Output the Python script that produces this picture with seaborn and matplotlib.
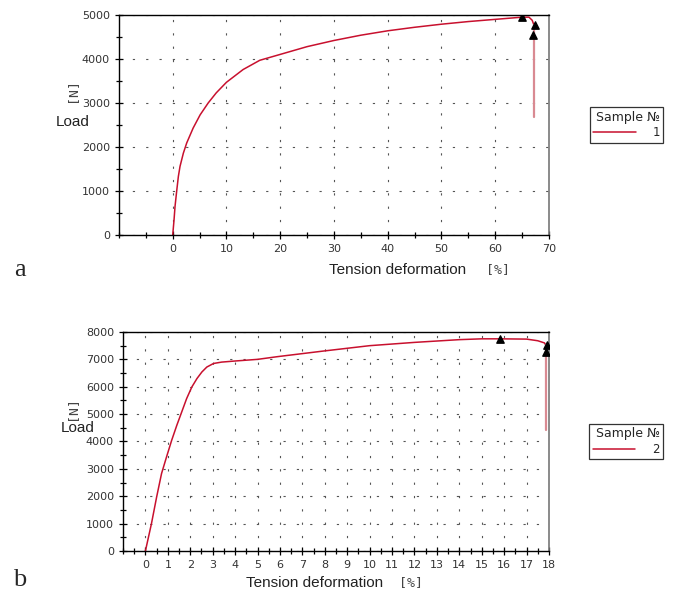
import matplotlib.pyplot as plt
import seaborn as sns
from matplotlib.ticker import MultipleLocator

# Sample 1 (panel a): tension deformation [%] vs load [N]
strain_a = [0, 0.25, 0.43, 0.74, 1.05, 1.36, 1.98, 2.6, 3.8, 5.1, 6.6, 8.1, 10, 13.1,
            16.2, 19.9, 25, 30, 35, 40, 45, 50, 55, 60, 63, 65, 66.3, 66.9, 67.2]
load_a = [0, 350, 650, 1000, 1330, 1560, 1860, 2090, 2430, 2730, 3000, 3230, 3470, 3760,
          3970, 4100, 4280, 4420, 4540, 4640, 4720, 4790, 4850, 4900, 4930, 4950, 4950,
          4880, 4780]
drop_a_x = [67.2, 67.2]
drop_a_y = [4780, 2690]
marks_a_x = [65.0, 67.4, 67.1]
marks_a_y = [4950, 4770, 4540]

# Sample 2 (panel b)
strain_b = [0, 0.27, 0.5, 0.72, 0.94, 1.17, 1.4, 1.62, 1.84, 2.07, 2.3, 2.52, 2.74, 3.04,
            3.4, 4.0, 5.0, 5.9, 7.9, 10, 12, 14, 15, 15.8, 17, 17.5, 17.8, 17.85]
load_b = [0, 1000, 1970, 2830, 3430, 4040, 4590, 5080, 5570, 5990, 6300, 6540, 6720, 6850,
          6900, 6940, 7000, 7100, 7300, 7500, 7620, 7720, 7750, 7750, 7740, 7680, 7600, 7530]
drop_b_x = [17.85, 17.85]
drop_b_y = [7530, 4420]
marks_b_x = [15.8, 17.9, 17.85]
marks_b_y = [7760, 7540, 7280]

sns.set_style('white')

LINE = '#c8102e'
DROP = '#d98a92'
TICK = '#333333'

fig = plt.figure(figsize=(6.78, 5.94), dpi=100)
ax_a = fig.add_axes([0.1755, 0.6044, 0.634, 0.3704])
ax_b = fig.add_axes([0.1814, 0.0724, 0.6283, 0.3687])


def style_axes(ax, xlim, ylim, xmaj, xmin, ymaj, ymin):
    ax.set_xlim(*xlim)
    ax.set_ylim(*ylim)
    ax.xaxis.set_major_locator(MultipleLocator(xmaj))
    ax.xaxis.set_minor_locator(MultipleLocator(xmin))
    ax.yaxis.set_major_locator(MultipleLocator(ymaj))
    ax.yaxis.set_minor_locator(MultipleLocator(ymin))
    ax.tick_params(which='both', direction='inout', colors='black', labelcolor=TICK,
                   labelsize=8, width=0.9, bottom=True, left=True)
    ax.tick_params(which='major', length=6)
    ax.tick_params(which='minor', length=4)
    ax.grid(True, which='major', color='#555555', linestyle=(0, (2, 10)), linewidth=0.8)
    for side in ['left', 'bottom', 'top']:
        ax.spines[side].set_color('black')
        ax.spines[side].set_linewidth(1.0)
    ax.spines['right'].set_color('#777777')
    ax.spines['right'].set_linewidth(1.2)
    ax.set_xlabel('')
    ax.set_ylabel('')


def draw_panel(ax, xs, ys, dx, dy, mx, my, label):
    sns.lineplot(x=xs, y=ys, ax=ax, color=LINE, linewidth=1.1, sort=False,
                 estimator=None, label=label)
    sns.lineplot(x=dx, y=dy, ax=ax, color=DROP, linewidth=1.6, sort=False,
                 estimator=None)
    ax.scatter(mx, my, marker='^', s=28, color='black', zorder=5)
    leg = ax.legend(title='Sample №', loc='center left', bbox_to_anchor=(1.095, 0.5),
                    frameon=True, fancybox=False, handlelength=3.6, fontsize=8.5,
                    title_fontsize=9, borderpad=0.3, handletextpad=1.4,
                    borderaxespad=0, labelspacing=0.2)
    leg.get_frame().set_edgecolor('black')
    leg.get_frame().set_linewidth(0.9)
    leg._legend_box.align = 'right'


draw_panel(ax_a, strain_a, load_a, drop_a_x, drop_a_y, marks_a_x, marks_a_y, '1')
style_axes(ax_a, (-10, 70), (0, 5000), 10, 5, 1000, 500)
ax_a.set_xticks(range(0, 71, 10))

draw_panel(ax_b, strain_b, load_b, drop_b_x, drop_b_y, marks_b_x, marks_b_y, '2')
style_axes(ax_b, (-1, 18), (0, 8000), 1, 0.5, 1000, 500)
ax_b.set_xticks(range(0, 19, 1))

# axis titles and panel letters
lab = dict(family='Liberation Sans', fontsize=11, color='#222222')
unit = dict(family='DejaVu Sans Mono', fontsize=9.5, color='#444444')

fig.text(73 / 678, 1 - 122 / 594, 'Load', ha='center', va='center', **lab)
fig.text(72 / 678, 1 - 90 / 594, '[N]', ha='center', va='center', rotation=90, **unit)
fig.text(398 / 678, 1 - 270 / 594, 'Tension deformation', ha='center', va='center', **lab)
fig.text(498 / 678, 1 - 270 / 594, '[%]', ha='center', va='center', **unit)

fig.text(78 / 678, 1 - 428 / 594, 'Load', ha='center', va='center', **lab)
fig.text(72 / 678, 1 - 408 / 594, '[N]', ha='center', va='center', rotation=90, **unit)
fig.text(315 / 678, 1 - 583 / 594, 'Tension deformation', ha='center', va='center', **lab)
fig.text(411 / 678, 1 - 583 / 594, '[%]', ha='center', va='center', **unit)

fig.text(20 / 678, 1 - 270 / 594, 'a', ha='center', va='center',
         family='Liberation Serif', fontsize=19)
fig.text(20 / 678, 1 - 580 / 594, 'b', ha='center', va='center',
         family='Liberation Serif', fontsize=19)

fig.savefig('out.png', dpi=100)
